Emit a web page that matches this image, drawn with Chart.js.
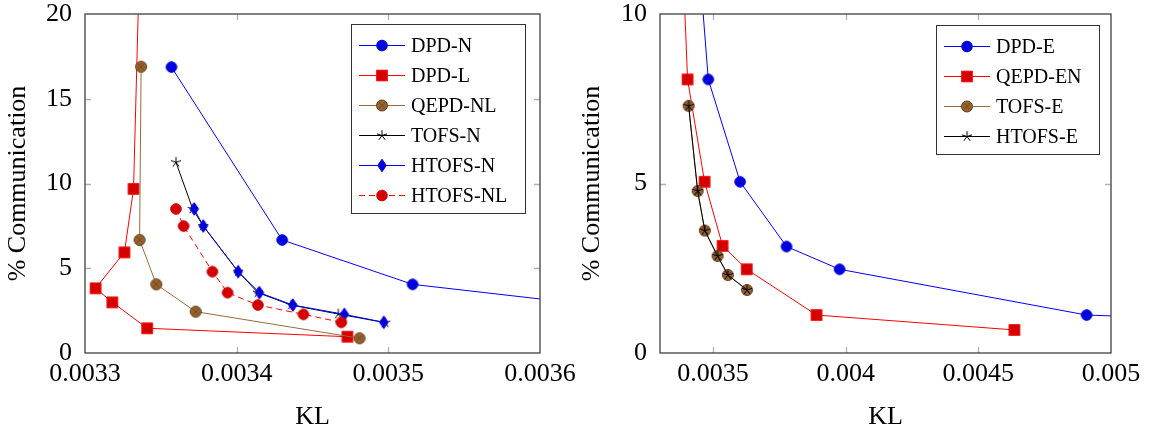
<!DOCTYPE html>
<html>
<head>
<meta charset="utf-8">
<script src="https://cdn.jsdelivr.net/npm/chart.js@4.4.0/dist/chart.umd.min.js"></script>
<style>
  body { margin: 0; background: #fff; width: 1154px; height: 430px; overflow: hidden; position: relative; font-family: "Liberation Serif", serif; }
  .box { position: absolute; top: 0; width: 577px; height: 430px; }
  .legend { position: absolute; border: 1px solid #333; background: #fff; box-sizing: border-box; padding-top: 5px; }
  .legend .row { height: 30px; display: flex; align-items: center; }
  .legend canvas { margin-left: 7px; margin-right: 6px; }
  .legend span { font-size: 20px; color: #000; line-height: 20px; }
</style>
</head>
<body>
<div class="box" style="left:0"><canvas id="left" width="577" height="430"></canvas></div>
<div class="box" style="left:577px"><canvas id="right" width="577" height="430"></canvas></div>
<div class="legend" id="legL" style="left:351px;top:24px;width:175px;height:190px"></div>
<div class="legend" id="legR" style="left:936px;top:25px;width:164px;height:130px"></div>

<script>
// --- graphique de gauche (KL vs % Communication, variantes N / L) ---
const leftXTicks = [0.0033, 0.0034, 0.0035, 0.0036];
const leftXLabels = ['0.0033', '0.0034', '0.0035', '0.0036'];
const leftYTicks = [0, 5, 10, 15, 20];

const dpdNX = [0.003357, 0.00343, 0.003516, 0.00375];
const dpdNY = [16.87, 6.67, 4.05, 1.65];
const dpdLX = [0.003338, 0.003332, 0.003326, 0.003307, 0.003318, 0.003341, 0.003473];
const dpdLY = [30, 9.68, 5.94, 3.82, 2.99, 1.46, 0.96];
const qepdNLX = [0.003337, 0.003336, 0.003347, 0.003373, 0.003481];
const qepdNLY = [16.89, 6.67, 4.05, 2.44, 0.87];
const tofsNX = [0.00336, 0.003371, 0.003378, 0.003401, 0.003414, 0.003436, 0.003467, 0.003498];
const tofsNY = [11.25, 8.5, 7.49, 4.8, 3.56, 2.83, 2.3, 1.79];
const htofsNX = [0.003372, 0.003378, 0.003401, 0.003415, 0.003437, 0.003471, 0.003497];
const htofsNY = [8.5, 7.49, 4.8, 3.56, 2.83, 2.28, 1.81];
const htofsNLX = [0.00336, 0.003365, 0.003384, 0.003394, 0.003414, 0.003444, 0.003469];
const htofsNLY = [8.5, 7.49, 4.8, 3.56, 2.83, 2.28, 1.81];

// --- graphique de droite (variantes E) ---
const rightXTicks = [0.0035, 0.004, 0.0045, 0.005];
const rightXLabels = ['0.0035', '0.004', '0.0045', '0.005'];
const rightYTicks = [0, 5, 10];

const dpdEX = [0.003413, 0.003482, 0.003602, 0.003777, 0.003977, 0.004908, 0.005334];
const dpdEY = [15, 8.07, 5.05, 3.14, 2.47, 1.12, 1.0];
const qepdENX = [0.003368, 0.003404, 0.003468, 0.003536, 0.003627, 0.00389, 0.004636];
const qepdENY = [15, 8.07, 5.05, 3.16, 2.47, 1.12, 0.68];
const tofsEX = [0.003408, 0.003442, 0.003469, 0.003517, 0.003556, 0.003628];
const tofsEY = [7.29, 4.78, 3.61, 2.86, 2.30, 1.86];
const htofsEX = [0.003408, 0.003442, 0.003469, 0.003517, 0.003556, 0.003628];
const htofsEY = [7.29, 4.78, 3.61, 2.86, 2.30, 1.86];

const FONT = 'Liberation Serif';

// Dessiner un marqueur (style pgfplots) sur un contexte
function drawMarker(ctx, kind, x, y, fill, stroke) {
    ctx.save();
    ctx.lineWidth = 1;
    if (kind === 'circle') {
        ctx.beginPath(); ctx.arc(x, y, 5.3, 0, Math.PI * 2);
        ctx.fillStyle = fill; ctx.fill(); ctx.strokeStyle = stroke; ctx.stroke();
    } else if (kind === 'square') {
        ctx.fillStyle = fill; ctx.fillRect(x - 5.3, y - 5.3, 10.6, 10.6);
        ctx.strokeStyle = stroke; ctx.strokeRect(x - 5.3, y - 5.3, 10.6, 10.6);
    } else if (kind === 'otimes') {
        ctx.beginPath(); ctx.arc(x, y, 5.5, 0, Math.PI * 2);
        ctx.fillStyle = fill; ctx.fill(); ctx.strokeStyle = stroke; ctx.stroke();
        const d = 3.9;
        ctx.beginPath();
        ctx.moveTo(x - d, y - d); ctx.lineTo(x + d, y + d);
        ctx.moveTo(x + d, y - d); ctx.lineTo(x - d, y + d);
        ctx.lineWidth = 0.8; ctx.stroke();
    } else if (kind === 'diamond') {
        ctx.beginPath();
        ctx.moveTo(x, y - 6.3); ctx.lineTo(x + 4.3, y); ctx.lineTo(x, y + 6.3); ctx.lineTo(x - 4.3, y);
        ctx.closePath();
        ctx.fillStyle = fill; ctx.fill(); ctx.strokeStyle = stroke; ctx.stroke();
    } else if (kind === 'star') {
        ctx.beginPath();
        for (let k = 0; k < 5; k++) {
            const a = -Math.PI / 2 + k * 2 * Math.PI / 5;
            ctx.moveTo(x, y); ctx.lineTo(x + 5.3 * Math.cos(a), y + 5.3 * Math.sin(a));
        }
        ctx.strokeStyle = stroke; ctx.lineWidth = 1; ctx.stroke();
    }
    ctx.restore();
}

function markerCanvas(kind, fill, stroke) {
    const c = document.createElement('canvas');
    c.width = 16; c.height = 16;
    drawMarker(c.getContext('2d'), kind, 8, 8, fill, stroke);
    return c;
}

function toPoints(xs, ys) {
    return xs.map((x, i) => ({ x: x, y: ys[i] }));
}

function makeDataset(label, xs, ys, kind, lineColor, fill, stroke, dash) {
    return {
        label: label,
        data: toPoints(xs, ys),
        borderColor: lineColor,
        borderWidth: 1,
        borderDash: dash || [],
        backgroundColor: fill,
        pointStyle: markerCanvas(kind, fill, stroke),
        pointRadius: 6,
        pointHoverRadius: 6,
        tension: 0,
        fill: false,
        _kind: kind, _fill: fill, _stroke: stroke
    };
}

const BLUE = '#0000ff', BLUE_F = '#0000dc';
const RED = '#ff0000', RED_F = '#d20000';
const BROWN = 'rgb(155,105,60)', BROWN_F = 'rgb(150,98,48)', BROWN_S = 'rgb(105,66,30)';

const leftDatasets = [
    makeDataset('DPD-N', dpdNX, dpdNY, 'circle', BLUE, BLUE_F, BLUE_F),
    makeDataset('DPD-L', dpdLX, dpdLY, 'square', RED, RED_F, RED),
    makeDataset('QEPD-NL', qepdNLX, qepdNLY, 'otimes', BROWN, BROWN_F, BROWN_S),
    makeDataset('TOFS-N', tofsNX, tofsNY, 'star', '#000', '#000', '#000'),
    makeDataset('HTOFS-N', htofsNX, htofsNY, 'diamond', BLUE, BLUE_F, BLUE_F),
    makeDataset('HTOFS-NL', htofsNLX, htofsNLY, 'circle', RED, RED_F, RED_F, [6, 4])
];

const rightDatasets = [
    makeDataset('DPD-E', dpdEX, dpdEY, 'circle', BLUE, BLUE_F, BLUE_F),
    makeDataset('QEPD-EN', qepdENX, qepdENY, 'square', RED, RED_F, RED),
    makeDataset('TOFS-E', tofsEX, tofsEY, 'otimes', BROWN, BROWN_F, BROWN_S),
    makeDataset('HTOFS-E', htofsEX, htofsEY, 'star', '#000', '#000', '#000')
];

// pgfplots : les tracés suivants passent au-dessus
function setOrder(list) {
    list.forEach((ds, i) => { ds.order = list.length - i; });
}
setOrder(leftDatasets);
setOrder(rightDatasets);

// Cadre + graduations intérieures
const framePlugin = {
    id: 'frame',
    afterDatasetsDraw(chart, args, opts) {
        const { ctx, chartArea: a, scales } = chart;
        ctx.save();
        ctx.strokeStyle = '#b0b0b0';
        ctx.lineWidth = 1.3;
        ctx.beginPath();
        opts.xTicks.forEach(v => {
            const px = Math.round(scales.x.getPixelForValue(v)) + 0.5;
            if (px <= a.left + 1 || px >= a.right - 1) return;
            ctx.moveTo(px, a.bottom); ctx.lineTo(px, a.bottom - 6);
            ctx.moveTo(px, a.top); ctx.lineTo(px, a.top + 6);
        });
        opts.yTicks.forEach(v => {
            const py = Math.round(scales.y.getPixelForValue(v)) + 0.5;
            if (py <= a.top + 1 || py >= a.bottom - 1) return;
            ctx.moveTo(a.left, py); ctx.lineTo(a.left + 6, py);
            ctx.moveTo(a.right, py); ctx.lineTo(a.right - 6, py);
        });
        ctx.stroke();
        ctx.strokeStyle = '#404040';
        ctx.lineWidth = 1.3;
        ctx.strokeRect(a.left, a.top, a.width, a.height);
        ctx.restore();
    }
};

function buildChart(canvasId, datasets, cfg) {
    const chart = new Chart(document.getElementById(canvasId), {
        type: 'line',
        data: { datasets: datasets },
        plugins: [framePlugin],
        options: {
            responsive: false,
            animation: false,
            layout: { padding: { top: cfg.area.top, right: 577 - cfg.area.right, left: 0, bottom: 0 } },
            plugins: {
                legend: { display: false },
                tooltip: { enabled: false },
                frame: { xTicks: cfg.xTicks, yTicks: cfg.yTicks }
            },
            scales: {
                x: {
                    type: 'linear',
                    min: 0.0033,
                    max: cfg.xMax,
                    grid: { display: false, drawTicks: false },
                    border: { display: false },
                    afterBuildTicks: (scale) => { scale.ticks = cfg.xTicks.map(v => ({ value: v })); },
                    afterFit: (scale) => {
                        scale.height = 430 - cfg.area.bottom;
                        scale.paddingLeft = 0; scale.paddingRight = 0;
                    },
                    ticks: {
                        autoSkip: false,
                        maxRotation: 0,
                        padding: 8,
                        color: '#000',
                        font: { family: FONT, size: 26, lineHeight: 1 },
                        callback: (value, index) => cfg.xLabels[index]
                    },
                    title: {
                        display: true, text: 'KL', color: '#000',
                        font: { family: FONT, size: 26, lineHeight: 1 },
                        padding: { top: 0, bottom: 0 }
                    }
                },
                y: {
                    min: 0,
                    max: cfg.yMax,
                    grid: { display: false, drawTicks: false },
                    border: { display: false },
                    afterBuildTicks: (scale) => { scale.ticks = cfg.yTicks.map(v => ({ value: v })); },
                    afterFit: (scale) => {
                        scale.width = cfg.area.left;
                        scale.paddingTop = 0; scale.paddingBottom = 0;
                    },
                    ticks: {
                        padding: 13,
                        color: '#000',
                        font: { family: FONT, size: 26, lineHeight: 1 }
                    },
                    title: {
                        display: true, text: '% Communication', color: '#000',
                        font: { family: FONT, size: 26, lineHeight: 1 },
                        padding: { top: cfg.titlePad, bottom: 0 }
                    }
                }
            }
        }
    });
    // corriger la zone de tracé si la mise en page a décalé quelque chose
    const a = chart.chartArea, p = chart.options.layout.padding;
    const dl = cfg.area.left - a.left, dt = cfg.area.top - a.top;
    const dr = a.right - cfg.area.right, db = a.bottom - cfg.area.bottom;
    if (Math.abs(dl) + Math.abs(dt) + Math.abs(dr) + Math.abs(db) > 0.5) {
        p.left += dl; p.top += dt; p.right += dr; p.bottom += db;
        chart.update();
    }
    return chart;
}

buildChart('left', leftDatasets, {
    xMax: 0.0036, yMax: 20, xTicks: leftXTicks, xLabels: leftXLabels, yTicks: leftYTicks,
    area: { left: 85, right: 540, top: 14, bottom: 353 }, titlePad: 5
});
buildChart('right', rightDatasets, {
    xMax: 0.005, yMax: 10, xTicks: rightXTicks, xLabels: rightXLabels, yTicks: rightYTicks,
    area: { left: 83, right: 534, top: 14, bottom: 353 }, titlePad: 2
});

// Légendes HTML (texte réel)
function fillLegend(id, datasets) {
    const box = document.getElementById(id);
    datasets.forEach(ds => {
        const row = document.createElement('div');
        row.className = 'row';
        const c = document.createElement('canvas');
        c.width = 46; c.height = 20;
        const g = c.getContext('2d');
        g.strokeStyle = ds.borderColor;
        g.lineWidth = 1.2;
        g.setLineDash(ds.borderDash);
        g.beginPath(); g.moveTo(0, 10.5); g.lineTo(46, 10.5); g.stroke();
        g.setLineDash([]);
        drawMarker(g, ds._kind, 23, 10.5, ds._fill, ds._stroke);
        const span = document.createElement('span');
        span.textContent = ds.label;
        row.appendChild(c);
        row.appendChild(span);
        box.appendChild(row);
    });
}
fillLegend('legL', leftDatasets);
fillLegend('legR', rightDatasets);
</script>
</body>
</html>
